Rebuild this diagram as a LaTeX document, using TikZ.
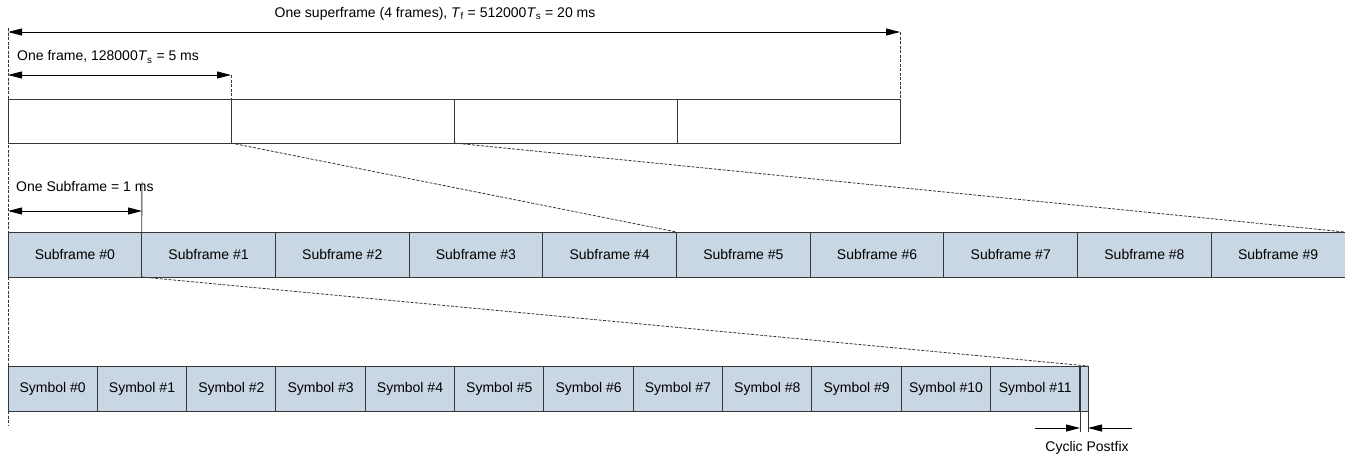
\documentclass[tikz,border=0pt]{standalone}
\usepackage{fontspec}
\setmainfont{Liberation Sans}
\usetikzlibrary{arrows.meta}
\definecolor{boxfill}{RGB}{201,214,228}
\definecolor{edge}{RGB}{55,55,55}
\begin{document}
\begin{tikzpicture}[x=1pt,y=-1pt,
  font=\fontsize{14}{16}\selectfont,
  frm/.style={draw=edge, line width=1pt, minimum width=223pt, minimum height=44pt, anchor=north west, inner sep=0pt, outer sep=0pt},
  sub/.style={draw=edge, fill=boxfill, line width=1pt, minimum width=133.7pt, minimum height=45pt, anchor=north west, inner sep=0pt, outer sep=0pt},
  sym/.style={draw=edge, fill=boxfill, line width=1pt, minimum width=89.33pt, minimum height=45pt, anchor=north west, inner sep=0pt, outer sep=0pt},
  dim/.style={{Triangle[length=14pt,width=7pt]}-{Triangle[length=14pt,width=7pt]}, line width=0.9pt, black},
  arr/.style={-{Triangle[length=14pt,width=7pt]}, line width=0.9pt, black},
  dline/.style={dash pattern=on 3pt off 1.5pt, line width=0.8pt, edge},
  sline/.style={line width=0.9pt, edge},
  lbl/.style={inner sep=0pt, text=black}
]
\useasboundingbox (0,0) rectangle (1345,456);

% frames
\foreach \i in {0,...,3} {
  \node[frm] (f\i) at ({8+223*\i},99) {};
}
% subframes
\foreach \i in {0,...,9} {
  \node[sub] (s\i) at ({8+133.7*\i},232) {Subframe \#\i};
}
% symbols
\foreach \i in {0,...,11} {
  \node[sym] (y\i) at ({8+89.33*\i},366) {Symbol \#\i};
}
\node[draw=edge, fill=boxfill, line width=1pt, minimum width=8pt, minimum height=45pt, anchor=north west, inner sep=0pt, outer sep=0pt] (cp) at (1080.0,366) {};

% coordinates
\coordinate (supL) at (8,32);
\coordinate (supR) at (900,32);
\coordinate (frL) at (8,75);
\coordinate (frR) at (231,75);
\coordinate (topL) at (8,28);
\coordinate (sbL) at (8,211);
\coordinate (sbR) at (142,211);
\coordinate (sbTop) at (142,182);
\coordinate (symBot) at (8,425);
\coordinate (cpA) at (1035,428);
\coordinate (cpB) at (1132,428);
\coordinate (cpL) at (1080,432);
\coordinate (cpR) at (1088,432);

% labels
\node[lbl] (tsup) at (435,14) {One superframe (4 frames), \textit{T}\textsubscript{f} = 512000\textit{T}\textsubscript{s} = 20 ms};
\node[lbl, anchor=west] (tfr) at (17,57) {One frame, 128000\textit{T}\textsubscript{s} = 5 ms};
\node[lbl, anchor=west] (tsub) at (16,186) {One Subframe = 1 ms};
\node[lbl] (tcp) at (1087,448) {Cyclic Postfix};

% dimension arrows
\draw[dim] (supL) -- (supR);
\draw[dim] (frL) -- (frR);
\draw[dim] (sbL) -- (sbR);

% extension lines
\draw[dline] (topL) -- (s0.north west);
\draw[dline] (supR) -- (f3.north east);
\draw[dline] (frR) -- (f1.north west);
\draw[sline] (sbTop) -- (s1.north west);
\draw[dline] (s0.south west) -- (y0.north west);
\draw[dline] (y0.south west) -- (symBot);

% zoom lines
\draw[dline] (f1.south west) -- (s4.north east);
\draw[dline] (f2.south west) -- (s9.north east);
\draw[dline] (s1.south west) -- (cp.north east);

% cyclic postfix
\draw[sline] (cp.south west) -- (cpL);
\draw[sline] (cp.south east) -- (cpR);
\draw[arr] (cpA) -- (cpA -| cpL);
\draw[arr] (cpB) -- (cpB -| cpR);
\end{tikzpicture}
\end{document}
